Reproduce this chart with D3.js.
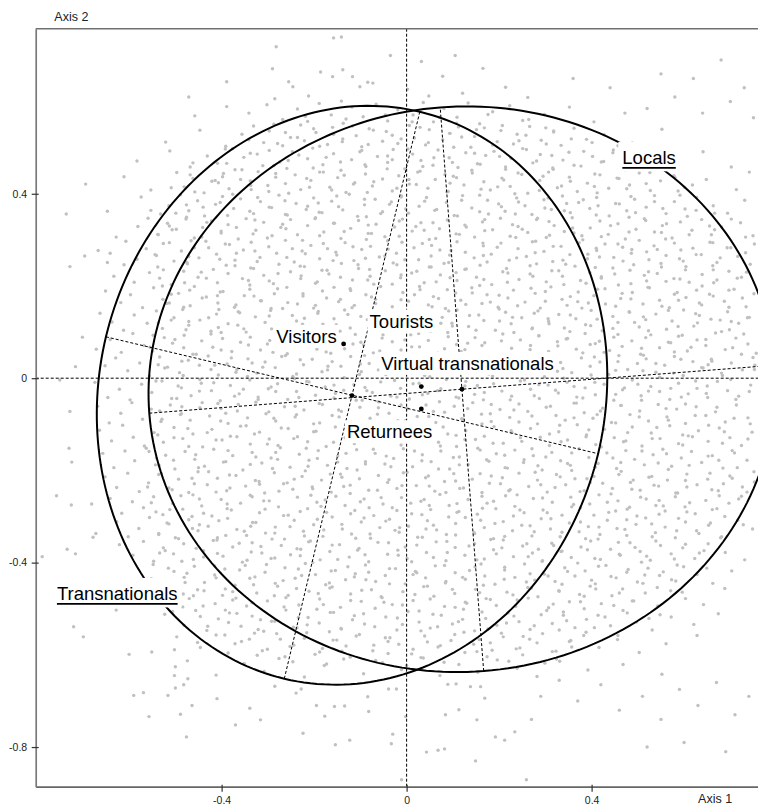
<!DOCTYPE html>
<html><head><meta charset="utf-8">
<script src="https://cdn.jsdelivr.net/npm/d3@7"></script>
<style>body{margin:0;background:#fff}svg{display:block}</style>
</head><body><svg id="chart" width="758" height="805"></svg>
<script>
// ---------- data ----------
const xTicks = [-0.4, 0, 0.4];
const yTicks = [0.4, 0, -0.4, -0.8];
const xDomain = [-0.802, 0.8];
const yDomain = [-0.886, 0.758];
const axisTitles = ["Axis 1", "Axis 2"];

const ellipseNames = ["Transnationals", "Locals"];
const ellipseCX = [-0.118, 0.1196];
const ellipseCY = [-0.037, -0.0239];
const ellipseA = [0.547, 0.678];     // semi-axis 1
const ellipseB = [0.632, 0.613];     // semi-axis 2
const ellipseAngle = [-13.4, 4.4];   // orientation of axis 1, degrees

const meanNames = ["Visitors", "Transnationals", "Virtual transnationals", "Returnees", "Locals"];
const meanX = [-0.1362, -0.1183, 0.0318, 0.0318, 0.1196];
const meanY = [0.0744, -0.0377, -0.0182, -0.0666, -0.0239];

const labelText = ["Visitors", "Tourists", "Virtual transnationals", "Returnees", "Locals", "Transnationals"];
const labelX = [-0.2817, -0.0800, -0.0547, -0.1291, 0.4664, -0.7561];
const labelY = [0.0766, 0.1098, 0.0180, -0.1302, 0.4649, -0.4809];
const labelUnderlined = [false, false, false, false, true, true];

// individuals (part 1): x, y pairs
const cloudXY = [
-.282,.719,-.158,.738,-.141,.740,-.290,.671,-.389,.643,-.471,.610,-.255,.643,-.246,.632,-.186,.664,-.160,.654,-.138,.669,-.117,.654,-.101,.632,-.084,.642,-.073,.640,-.285,.606,-.141,.601,.002,.627,.032,.687,.078,.655,.121,.618,.165,.672,.214,.631,.262,.609,.048,.612,-.212,.612,-.035,.700,.105,.700,
.52,.585,.58,.61,.64,.575,.70,.60,.75,.565,.62,.65,.68,.69,.55,.66,.73,.63,.44,.63,.36,.65,
-.458,.569,-.389,.589,-.341,.575,-.302,.593,-.268,.561,-.236,.584,-.214,.557,-.189,.596,-.163,.571,-.137,.553,-.118,.588,-.094,.567,-.066,.594,-.041,.558,-.019,.582,.014,.571,.036,.598,.058,.556,.081,.585,.109,.566,.133,.597,.158,.552,.186,.578,.223,.591,.251,.559,.298,.572,.352,.588,.405,.556,.472,.575,
-.521,.512,-.447,.538,-.391,.503,-.356,.529,-.331,.547,-.309,.511,-.297,.536,-.268,.504,-.251,.522,-.229,.549,-.221,.515,-.196,.533,-.171,.507,-.160,.544,-.138,.519,-.109,.526,-.097,.502,-.081,.541,-.052,.514,-.044,.535,-.019,.509,.006,.548,.017,.521,.041,.506,.049,.539,.078,.517,.093,.531,.112,.545,.139,.501,.147,.524,.168,.543,.196,.513,.204,.537,.231,.508,.258,.527,.266,.546,.291,.516,.318,.534,.334,.505,.362,.542,.389,.518,.427,.528,.488,.51,.552,.54,
-.583,.471,-.512,.493,-.468,.458,-.431,.482,-.409,.466,-.392,.497,-.371,.452,-.352,.479,-.338,.488,-.311,.461,-.297,.494,-.274,.469,-.259,.455,-.233,.484,-.214,.476,-.203,.499,-.181,.463,-.158,.487,-.142,.451,-.119,.474,-.101,.491,-.088,.459,-.063,.481,-.041,.468,-.029,.496,-.004,.454,.013,.486,.031,.472,.057,.462,.068,.495,.092,.478,.111,.457,.128,.489,.153,.465,.171,.483,.189,.492,.214,.453,.226,.477,.251,.498,.273,.467,.289,.485,.316,.456,.338,.473,.351,.490,.377,.460,.402,.481,.421,.469,.447,.495,.473,.452,.498,.487,.539,.464,.584,.476,.641,.491,.702,.458,
-.694,.421,-.611,.437,-.553,.408,-.497,.446,-.481,.415,-.462,.433,-.438,.402,-.421,.427,-.396,.444,-.384,.411,-.359,.431,-.337,.418,-.321,.448,-.298,.405,-.283,.436,-.262,.422,-.241,.441,-.229,.409,-.207,.429,-.188,.447,-.166,.414,-.149,.435,-.131,.403,-.112,.424,-.089,.443,-.074,.417,-.052,.432,-.031,.406,-.017,.439,.006,.421,.024,.447,.046,.412,.062,.431,.087,.404,.101,.438,.124,.419,.142,.445,.167,.426,.181,.408,.206,.434,.224,.416,.249,.442,.262,.401,.288,.429,.307,.447,.326,.413,.352,.436,.369,.405,.391,.423,.418,.441,.437,.412,.459,.433,.482,.419,.503,.445,.527,.407,.549,.428,.578,.439,.601,.414,.648,.431,.713,.409,.741,.447,
-.647,.362,-.574,.393,-.532,.356,-.514,.374,-.489,.398,-.471,.363,-.452,.385,-.437,.352,-.413,.377,-.398,.394,-.374,.368,-.359,.389,-.331,.357,-.316,.383,-.297,.371,-.276,.397,-.258,.354,-.239,.379,-.217,.366,-.201,.391,-.183,.359,-.162,.384,-.147,.372,-.124,.399,-.106,.351,-.091,.376,-.068,.388,-.052,.361,-.033,.382,-.011,.395,.004,.358,.027,.373,.043,.392,.061,.364,.086,.381,.103,.353,.119,.386,.141,.369,.158,.397,.177,.356,.199,.378,.213,.362,.238,.391,.256,.374,.271,.355,.297,.387,.313,.366,.337,.395,.354,.359,.372,.381,.396,.368,.411,.392,.438,.352,.452,.379,.476,.363,.493,.388,.518,.371,.536,.396,.561,.357,.579,.383,.602,.367,.627,.392,.663,.374,.694,.358,.731,.386,
-.628,.306,-.581,.329,-.559,.347,-.538,.312,-.517,.336,-.498,.323,-.476,.349,-.459,.304,-.441,.327,-.422,.341,-.401,.315,-.386,.333,-.364,.302,-.347,.346,-.326,.321,-.309,.338,-.291,.309,-.272,.327,-.251,.344,-.236,.311,-.214,.331,-.197,.348,-.179,.317,-.158,.336,-.142,.303,-.121,.325,-.104,.342,-.083,.314,-.066,.334,-.047,.307,-.026,.328,-.009,.345,.012,.319,.031,.337,.049,.301,.071,.324,.088,.343,.107,.313,.126,.332,.147,.306,.164,.339,.186,.322,.203,.347,.224,.308,.241,.329,.262,.316,.281,.344,.302,.305,.319,.331,.341,.318,.358,.348,.379,.309,.397,.326,.418,.341,.436,.312,.457,.335,.473,.302,.496,.323,.514,.346,.536,.317,.553,.331,.574,.304,.592,.339,.617,.321,.638,.344,.659,.311,.681,.328,.722,.337,.749,.309,
-.641,.271,-.607,.297,-.583,.258,-.563,.281,-.541,.266,-.526,.292,-.503,.254,-.487,.276,-.466,.298,-.449,.261,-.428,.283,-.411,.269,-.392,.291,-.371,.256,-.353,.278,-.336,.295,-.317,.262,-.298,.285,-.281,.271,-.262,.299,-.243,.252,-.226,.276,-.207,.288,-.188,.259,-.171,.281,-.151,.267,-.133,.294,-.114,.255,-.097,.279,-.078,.286,-.059,.263,-.041,.298,-.022,.271,-.004,.257,.016,.283,.034,.292,.053,.265,.072,.278,.091,.251,.109,.296,.127,.273,.146,.261,.166,.287,.183,.269,.204,.293,.222,.256,.241,.281,.259,.264,.279,.297,.297,.275,.316,.253,.334,.286,.353,.268,.373,.294,.391,.259,.411,.277,.429,.291,.448,.262,.467,.284,.486,.271,.503,.299,.524,.257,.542,.279,.561,.266,.579,.293,.598,.254,.619,.282,.637,.268,.656,.295,.678,.261,.701,.283,.733,.272,.752,.291,
-.633,.221,-.611,.246,-.589,.208,-.556,.229,-.538,.241,-.534,.217,-.509,.203,-.482,.232,-.474,.248,-.451,.219,-.418,.236,-.409,.207,-.386,.227,-.371,.244,-.342,.212,-.337,.239,-.309,.223,-.288,.205,-.276,.247,-.251,.231,-.229,.216,-.221,.242,-.193,.209,-.172,.234,-.168,.226,-.141,.249,-.117,.213,-.104,.238,-.079,.221,-.071,.204,-.046,.233,-.021,.246,-.013,.218,.011,.228,.038,.207,.049,.241,.073,.224,.081,.249,.109,.212,.126,.236,.151,.219,.159,.245,.184,.203,.208,.231,.216,.238,.243,.214,.267,.226,.281,.248,.302,.209,.329,.233,.337,.221,.364,.243,.388,.206,.396,.229,.421,.217,.446,.239,.458,.202,.483,.234,.491,.246,.519,.211,.542,.227,.551,.241,.578,.216,.603,.235,.611,.208,.639,.225,.662,.244,.671,.213,.697,.232,.724,.219,.743,.247,
-.651,.189,-.618,.164,-.597,.181,-.571,.153,-.547,.196,-.527,.171,-.519,.162,-.493,.184,-.468,.157,-.459,.199,-.433,.176,-.408,.163,-.397,.188,-.372,.154,-.351,.179,-.339,.193,-.314,.168,-.293,.151,-.286,.183,-.259,.197,-.236,.161,-.224,.178,-.201,.152,-.182,.189,-.173,.174,-.147,.166,-.122,.194,-.113,.158,-.088,.181,-.067,.171,-.056,.199,-.031,.155,-.008,.186,.004,.167,.029,.192,.047,.159,.058,.177,.084,.151,.106,.185,.117,.169,.141,.196,.163,.162,.174,.181,.198,.154,.219,.174,.231,.191,.256,.165,.278,.184,.289,.152,.312,.198,.336,.171,.347,.158,.371,.187,.393,.163,.405,.179,.429,.194,.452,.156,.463,.173,.488,.186,.511,.161,.522,.197,.547,.169,.568,.153,.579,.182,.604,.175,.627,.191,.638,.159,.663,.178,.687,.167,.708,.193,.734,.155,.751,.183,
-.663,.141,-.637,.122,-.612,.104,-.589,.137,-.561,.119,-.541,.146,-.528,.108,-.503,.131,-.484,.149,-.471,.115,-.447,.126,-.423,.102,-.411,.139,-.386,.118,-.364,.144,-.352,.107,-.327,.133,-.306,.121,-.294,.147,-.268,.111,-.247,.136,-.238,.124,-.211,.103,-.192,.141,-.181,.117,-.157,.129,-.134,.148,-.122,.109,-.099,.134,-.077,.121,-.064,.142,-.039,.106,-.018,.127,-.007,.139,.019,.114,.041,.145,.052,.101,.077,.132,.098,.119,.109,.148,.134,.112,.156,.137,.167,.125,.192,.104,.214,.143,.226,.118,.249,.131,.271,.107,.284,.146,.307,.123,.329,.138,.341,.109,.366,.129,.387,.116,.399,.147,.423,.103,.446,.134,.457,.121,.482,.143,.503,.111,.517,.127,.539,.139,.562,.106,.574,.124,.599,.148,.621,.113,.633,.136,.658,.128,.681,.101,.694,.144,.718,.119,.741,.132,
-.671,.063,-.641,.084,-.617,.056,-.592,.097,-.568,.071,-.549,.059,-.524,.088,-.506,.076,-.481,.093,-.462,.052,-.443,.081,-.419,.067,-.401,.099,-.378,.058,-.359,.078,-.338,.089,-.316,.061,-.301,.074,-.277,.096,-.258,.053,-.239,.083,-.214,.069,-.198,.091,-.174,.057,-.156,.086,-.134,.064,-.111,.095,-.093,.072,-.072,.055,-.053,.087,-.031,.079,-.012,.061,.009,.094,.028,.068,.047,.082,.068,.054,.089,.099,.108,.073,.126,.062,.148,.088,.169,.077,.187,.051,.208,.096,.227,.065,.246,.083,.268,.071,.286,.092,.307,.058,.326,.079,.348,.086,.367,.063,.386,.097,.408,.075,.427,.056,.448,.089,.466,.069,.487,.081,.506,.052,.528,.094,.547,.066,.566,.078,.588,.091,.607,.059,.628,.083,.647,.071,.668,.098,.689,.062,.712,.087,.738,.074,.756,.054,
-.652,.027,-.629,.044,-.603,.016,-.577,.033,-.556,.005,-.534,.046,-.517,.024,-.491,.012,-.472,.039,-.448,.028,-.429,.048,-.407,.007,-.388,.031,-.367,.019,-.343,.042,-.324,.011,-.306,.035,-.284,.023,-.262,.049,-.246,.004,-.223,.029,-.204,.041,-.183,.014,-.161,.036,-.142,.026,-.121,.047,-.102,.008,-.081,.032,-.061,.018,-.043,.043,-.021,.025,-.003,.011,.018,.037,.039,.006,.057,.029,.079,.045,.098,.017,.118,.034,.137,.022,.159,.048,.178,.009,.198,.031,.219,.041,.237,.015,.258,.027,.277,.046,.298,.003,.317,.038,.338,.021,.357,.012,.378,.044,.397,.026,.418,.035,.437,.008,.459,.049,.478,.019,.499,.032,.518,.042,.539,.013,.558,.028,.579,.047,.598,.006,.619,.036,.638,.023,.659,.041,.681,.011,.702,.033,.726,.018,.749,.045,
-.674,-.009,-.646,-.042,-.621,-.024,-.598,-.047,-.573,-.013,-.551,-.031,-.529,-.006,-.508,-.044,-.487,-.021,-.466,-.038,-.444,-.011,-.422,-.027,-.403,-.049,-.381,-.016,-.362,-.034,-.339,-.004,-.321,-.041,-.299,-.023,-.279,-.012,-.257,-.046,-.238,-.029,-.216,-.007,-.197,-.037,-.176,-.019,-.157,-.043,-.136,-.026,-.114,-.014,-.096,-.048,-.074,-.031,-.056,-.008,-.034,-.039,-.013,-.022,.006,-.045,.027,-.011,.046,-.033,.067,-.027,.086,-.003,.107,-.041,.126,-.017,.147,-.035,.166,-.047,.188,-.012,.206,-.028,.227,-.039,.246,-.006,.268,-.024,.287,-.044,.306,-.015,.328,-.032,.347,-.009,.368,-.041,.386,-.021,.408,-.036,.427,-.013,.448,-.048,.467,-.025,.488,-.004,.507,-.038,.528,-.018,.547,-.029,.569,-.046,.588,-.011,.609,-.034,.628,-.022,.651,-.042,.672,-.007,.694,-.027,.718,-.039,.744,-.015,
-.668,-.061,-.643,-.097,-.618,-.076,-.594,-.053,-.571,-.089,-.552,-.067,-.531,-.094,-.511,-.058,-.489,-.079,-.468,-.091,-.447,-.064,-.426,-.082,-.408,-.055,-.386,-.098,-.366,-.071,-.344,-.086,-.326,-.052,-.304,-.077,-.283,-.093,-.264,-.062,-.241,-.084,-.222,-.069,-.201,-.099,-.182,-.057,-.161,-.081,-.141,-.072,-.119,-.095,-.101,-.063,-.079,-.087,-.061,-.051,-.038,-.076,-.019,-.092,.002,-.066,.023,-.083,.042,-.058,.063,-.096,.082,-.074,.103,-.061,.122,-.089,.143,-.053,.162,-.078,.183,-.094,.202,-.068,.223,-.085,.243,-.056,.262,-.072,.283,-.099,.302,-.063,.323,-.081,.343,-.091,.362,-.054,.384,-.075,.403,-.087,.424,-.065,.443,-.096,.464,-.059,.483,-.079,.504,-.071,.523,-.093,.544,-.057,.563,-.084,.584,-.067,.603,-.098,.626,-.062,.647,-.081,.668,-.073,.689,-.095,.713,-.058,.738,-.086,
-.664,-.113,-.638,-.136,-.614,-.102,-.591,-.128,-.567,-.147,-.546,-.118,-.526,-.139,-.503,-.107,-.484,-.131,-.462,-.121,-.441,-.149,-.421,-.111,-.399,-.134,-.381,-.126,-.359,-.104,-.338,-.143,-.318,-.117,-.297,-.132,-.278,-.146,-.256,-.109,-.236,-.127,-.214,-.138,-.196,-.115,-.174,-.148,-.154,-.106,-.133,-.129,-.113,-.142,-.092,-.119,-.073,-.101,-.051,-.136,-.031,-.124,-.012,-.145,.009,-.112,.029,-.131,.048,-.103,.069,-.139,.089,-.121,.108,-.148,.128,-.114,.149,-.133,.168,-.126,.189,-.105,.209,-.141,.228,-.118,.249,-.137,.268,-.109,.289,-.128,.309,-.146,.329,-.116,.348,-.134,.369,-.101,.389,-.123,.409,-.144,.428,-.111,.449,-.129,.469,-.138,.488,-.106,.509,-.147,.529,-.119,.548,-.131,.569,-.103,.588,-.142,.609,-.125,.631,-.114,.652,-.137,.676,-.108,.699,-.129,.724,-.146,.747,-.117,
-.657,-.163,-.633,-.194,-.609,-.158,-.588,-.179,-.563,-.152,-.543,-.188,-.521,-.167,-.501,-.197,-.479,-.159,-.458,-.176,-.437,-.191,-.417,-.154,-.396,-.182,-.376,-.168,-.354,-.199,-.334,-.161,-.313,-.184,-.293,-.173,-.273,-.151,-.252,-.193,-.232,-.165,-.211,-.178,-.191,-.157,-.171,-.189,-.149,-.169,-.129,-.196,-.108,-.155,-.089,-.181,-.068,-.163,-.047,-.186,-.028,-.174,-.007,-.153,.013,-.192,.034,-.166,.053,-.181,.074,-.158,.093,-.197,.114,-.171,.133,-.187,.154,-.152,.173,-.177,.194,-.164,.213,-.194,.234,-.156,.253,-.183,.274,-.168,.293,-.199,.314,-.161,.333,-.179,.354,-.189,.373,-.153,.394,-.172,.414,-.185,.433,-.162,.454,-.196,.474,-.157,.493,-.176,.514,-.188,.533,-.166,.554,-.154,.573,-.191,.594,-.173,.616,-.159,.638,-.183,.661,-.168,.684,-.195,.709,-.162,.736,-.178,
-.652,-.214,-.627,-.237,-.603,-.206,-.578,-.246,-.558,-.227,-.536,-.209,-.514,-.238,-.493,-.219,-.471,-.248,-.451,-.203,-.431,-.231,-.409,-.217,-.389,-.244,-.369,-.211,-.348,-.234,-.327,-.222,-.307,-.249,-.286,-.205,-.266,-.229,-.246,-.241,-.226,-.213,-.204,-.236,-.184,-.221,-.163,-.247,-.143,-.208,-.122,-.232,-.102,-.218,-.082,-.243,-.061,-.211,-.041,-.226,-.021,-.239,.001,-.204,.021,-.233,.041,-.216,.061,-.245,.082,-.224,.102,-.207,.123,-.238,.142,-.219,.163,-.248,.183,-.212,.203,-.229,.224,-.242,.243,-.206,.264,-.235,.283,-.221,.304,-.247,.324,-.209,.344,-.231,.364,-.218,.384,-.244,.405,-.213,.424,-.228,.445,-.239,.464,-.202,.484,-.226,.505,-.243,.524,-.215,.545,-.234,.564,-.221,.586,-.249,.606,-.208,.628,-.231,.651,-.219,.674,-.244,.699,-.212,.726,-.236,.752,-.225,
-.641,-.261,-.616,-.293,-.593,-.268,-.569,-.281,-.547,-.257,-.527,-.296,-.506,-.272,-.484,-.284,-.462,-.253,-.443,-.277,-.421,-.299,-.401,-.263,-.379,-.286,-.359,-.271,-.338,-.254,-.318,-.292,-.297,-.266,-.277,-.279,-.256,-.297,-.236,-.258,-.214,-.283,-.194,-.269,-.173,-.291,-.153,-.256,-.133,-.276,-.112,-.287,-.092,-.262,-.071,-.298,-.051,-.273,-.031,-.281,-.011,-.259,.011,-.294,.031,-.267,.052,-.285,.072,-.252,.092,-.276,.113,-.289,.133,-.263,.153,-.295,.174,-.271,.193,-.283,.214,-.255,.234,-.278,.254,-.292,.274,-.261,.295,-.286,.315,-.269,.336,-.297,.355,-.258,.376,-.281,.396,-.273,.416,-.253,.437,-.291,.457,-.266,.477,-.284,.498,-.299,.518,-.262,.539,-.276,.559,-.288,.581,-.257,.602,-.279,.624,-.294,.647,-.265,.671,-.283,.697,-.271,.724,-.256,
-.672,-.337,-.627,-.311,-.602,-.344,-.579,-.326,-.556,-.302,-.536,-.339,-.514,-.316,-.493,-.348,-.471,-.307,-.451,-.331,-.429,-.321,-.409,-.346,-.387,-.304,-.367,-.328,-.346,-.341,-.326,-.313,-.305,-.336,-.284,-.323,-.264,-.349,-.243,-.308,-.223,-.332,-.201,-.318,-.181,-.343,-.161,-.301,-.139,-.327,-.119,-.338,-.098,-.312,-.078,-.347,-.058,-.324,-.037,-.306,-.016,-.334,.004,-.321,.024,-.345,.045,-.309,.065,-.329,.086,-.339,.106,-.315,.127,-.302,.147,-.337,.168,-.324,.188,-.348,.209,-.311,.229,-.331,.249,-.319,.271,-.342,.291,-.305,.311,-.327,.332,-.344,.352,-.314,.373,-.333,.393,-.322,.414,-.349,.434,-.308,.455,-.326,.476,-.341,.496,-.317,.517,-.303,.538,-.335,.559,-.323,.581,-.346,.603,-.312,.627,-.331,.653,-.319,.681,-.344,.716,-.308,.748,-.327,
-.621,-.361,-.592,-.384,-.569,-.354,-.547,-.397,-.526,-.368,-.504,-.381,-.482,-.359,-.461,-.393,-.439,-.374,-.418,-.352,-.397,-.386,-.376,-.366,-.355,-.399,-.334,-.357,-.313,-.379,-.293,-.391,-.271,-.363,-.251,-.383,-.229,-.371,-.208,-.353,-.187,-.394,-.166,-.376,-.145,-.361,-.124,-.388,-.103,-.369,-.082,-.398,-.062,-.356,-.041,-.382,-.019,-.373,.001,-.391,.022,-.362,.043,-.378,.064,-.355,.085,-.396,.105,-.367,.126,-.384,.147,-.359,.168,-.392,.188,-.372,.209,-.351,.231,-.387,.251,-.364,.272,-.379,.293,-.397,.314,-.358,.336,-.375,.356,-.389,.377,-.366,.398,-.353,.419,-.393,.441,-.371,.462,-.384,.483,-.357,.505,-.376,.527,-.395,.549,-.363,.572,-.381,.597,-.368,.623,-.391,.652,-.359,.689,-.378,.731,-.394,
-.571,-.436,-.548,-.404,-.526,-.447,-.503,-.419,-.481,-.432,-.459,-.408,-.437,-.443,-.415,-.427,-.393,-.414,-.371,-.449,-.349,-.406,-.328,-.431,-.306,-.421,-.284,-.445,-.263,-.411,-.241,-.434,-.219,-.402,-.197,-.426,-.175,-.448,-.154,-.417,-.132,-.437,-.111,-.424,-.089,-.405,-.067,-.441,-.046,-.428,-.024,-.413,-.003,-.446,.019,-.419,.041,-.433,.062,-.407,.084,-.444,.105,-.422,.127,-.436,.148,-.409,.169,-.429,.191,-.447,.212,-.416,.234,-.432,.255,-.403,.277,-.438,.298,-.425,.321,-.441,.342,-.411,.364,-.429,.386,-.418,.408,-.446,.431,-.406,.453,-.433,.476,-.421,.499,-.442,.522,-.412,.547,-.428,.573,-.437,.599,-.409,.628,-.426,.662,-.445,.703,-.418,
-.568,-.459,-.531,-.481,-.508,-.453,-.484,-.496,-.461,-.472,-.438,-.461,-.414,-.489,-.392,-.457,-.369,-.477,-.346,-.494,-.324,-.466,-.301,-.483,-.279,-.451,-.256,-.471,-.233,-.492,-.211,-.462,-.188,-.479,-.166,-.455,-.143,-.497,-.121,-.468,-.098,-.484,-.076,-.459,-.053,-.476,-.031,-.491,-.008,-.463,.014,-.482,.037,-.452,.059,-.473,.082,-.495,.104,-.467,.127,-.486,.149,-.458,.172,-.478,.194,-.493,.217,-.464,.239,-.481,.262,-.454,.284,-.474,.307,-.498,.329,-.461,.352,-.485,.374,-.469,.397,-.451,.421,-.489,.444,-.472,.467,-.457,.491,-.483,.516,-.466,.543,-.494,.571,-.461,.603,-.478,.642,-.491,.688,-.456,
-.523,-.512,-.481,-.536,-.456,-.504,-.432,-.547,-.407,-.522,-.383,-.509,-.358,-.538,-.334,-.516,-.309,-.549,-.285,-.527,-.261,-.503,-.237,-.541,-.213,-.519,-.189,-.531,-.165,-.508,-.141,-.544,-.117,-.524,-.093,-.511,-.069,-.539,-.045,-.518,-.021,-.546,.003,-.506,.027,-.529,.051,-.542,.075,-.514,.099,-.533,.123,-.501,.147,-.548,.171,-.521,.195,-.536,.219,-.509,.243,-.528,.267,-.545,.291,-.513,.315,-.532,.339,-.507,.364,-.541,.389,-.523,.414,-.514,.441,-.537,.468,-.504,.497,-.529,.531,-.546,.572,-.518,.621,-.534,.674,-.511,
-.497,-.561,-.446,-.584,-.412,-.557,-.386,-.596,-.357,-.571,-.329,-.553,-.301,-.588,-.273,-.566,-.244,-.579,-.216,-.552,-.188,-.594,-.159,-.568,-.131,-.581,-.102,-.556,-.073,-.591,-.046,-.563,-.017,-.577,.011,-.598,.039,-.559,.068,-.583,.096,-.569,.124,-.551,.152,-.593,.181,-.574,.209,-.561,.237,-.587,.266,-.566,.294,-.554,.323,-.592,.352,-.571,.383,-.558,.416,-.584,.456,-.567,.503,-.595,.561,-.576,.628,-.558,
-.412,-.644,-.351,-.619,-.308,-.636,-.263,-.604,-.221,-.648,-.178,-.623,-.136,-.609,-.093,-.641,-.052,-.617,-.011,-.632,.031,-.606,.072,-.645,.113,-.621,.154,-.638,.196,-.611,.239,-.629,.282,-.647,.331,-.614,.392,-.633,.468,-.621,.552,-.642,
-.736,.356,-.728,.242,-.696,.265,-.667,.277,-.647,.251,-.701,.089,-.716,.025,-.750,-.004,-.728,-.072,-.730,-.152,-.724,-.182,-.757,-.255,-.725,-.275,-.681,-.273,-.788,-.387,-.734,-.371,-.716,-.381,-.678,-.345,
-.720,-.539,-.699,-.561,-.628,-.503,-.600,-.599,-.551,-.594,-.502,-.589,-.500,-.626,-.502,-.645,-.474,-.613,-.473,-.652,-.482,-.665,-.500,-.672,-.590,-.688,-.569,-.682,-.516,-.688,-.464,-.710,-.557,-.734,-.489,-.729,-.476,-.778,
-.228,-.674,-.239,-.683,-.195,-.710,-.156,-.712,-.134,-.711,-.177,-.733,-.084,-.691,-.082,-.723,-.039,-.674,-.022,-.674,-.316,-.741,-.224,-.770,-.154,-.795,-.123,-.785,-.030,-.772,-.033,-.793,-.002,-.734,-.011,-.871,.043,-.811,.068,-.807,.082,-.804,.084,-.730,.113,-.719,.152,-.741,.169,-.694,.089,-.664,.107,-.663,.138,-.669,.160,-.669,.149,-.830,.192,-.778,.212,-.785,.234,-.767,.259,-.871,-.285,-.668,-.339,-.716,-.41,-.695,-.37,-.752,
.33,-.655,.37,-.70,.42,-.665,.46,-.72,.51,-.69,.55,-.74,.59,-.675,.63,-.71,.67,-.66,.71,-.73,.74,-.69,.60,-.79,.52,-.80,.69,-.81,.29,-.69,.27,-.74
];

// individuals (part 2): x, y pairs
const cloudXY2 = [
-.287,.551,-.262,.533,-.219,.568,-.201,.541,-.158,.529,-.131,.562,-.117,.547,-.072,.538,-.046,.571,-.031,.527,.012,.556,.029,.544,.071,.566,.094,.531,.108,.553,.151,.539,.176,.572,.207,.548,.239,.529,.264,.561,.301,.543,.318,.536,
-.376,.498,-.341,.517,-.323,.486,-.279,.509,-.247,.491,-.236,.522,-.188,.503,-.174,.479,-.139,.513,-.097,.494,-.083,.507,-.041,.482,-.012,.519,.003,.497,.047,.511,.059,.478,.102,.501,.119,.523,.147,.488,.186,.506,.201,.481,.243,.515,.259,.496,.302,.508,.314,.483,.356,.519,.383,.492,.401,.511,.446,.489,.457,.504,
-.468,.441,-.462,.467,-.414,.429,-.398,.437,-.389,.466,-.356,.452,-.338,.428,-.287,.461,-.283,.444,-.256,.472,-.216,.433,-.202,.456,-.180,.447,-.143,.469,-.135,.440,-.090,.463,-.071,.426,-.042,.454,-.031,.474,.005,.431,.029,.449,.035,.459,.083,.442,.099,.468,.108,.435,.141,.451,.159,.464,.210,.430,.214,.458,.241,.445,.281,.471,.295,.438,.317,.453,.354,.427,.362,.462,.407,.443,.426,.470,.455,.434,.466,.455,.502,.473,.526,.446,.532,.460,.580,.436,
-.509,.413,-.476,.376,-.458,.404,-.407,.424,-.403,.381,-.376,.399,-.336,.409,-.322,.392,-.300,.418,-.263,.385,-.255,.401,-.210,.414,-.191,.380,-.162,.408,-.151,.395,-.115,.421,-.091,.388,-.085,.403,-.037,.377,-.021,.412,-.012,.393,.021,.420,.039,.384,.090,.405,.094,.423,.121,.396,.161,.410,.175,.386,.197,.415,.234,.400,.242,.382,.287,.407,.306,.391,.335,.417,.346,.379,.382,.387,.406,.416,.412,.402,.460,.378,.476,.411,.485,.394,.518,.422,.536,.383,.587,.406,.591,.397,.618,.419,
-.553,.364,-.513,.330,-.499,.358,-.477,.345,-.440,.371,-.432,.338,-.387,.353,-.368,.327,-.339,.362,-.328,.343,-.292,.370,-.268,.334,-.262,.355,-.214,.373,-.198,.346,-.189,.360,-.156,.336,-.138,.365,-.087,.350,-.083,.332,-.056,.357,-.016,.341,-.002,.367,.020,.329,.057,.337,.065,.366,.110,.352,.129,.328,.158,.361,.169,.344,.205,.372,.229,.333,.235,.356,.283,.347,.299,.369,.308,.340,.341,.363,.359,.326,.410,.354,.414,.374,.441,.331,.481,.349,.495,.359,.517,.342,.554,.368,.562,.335,.607,.351,.626,.364,.655,.330,.666,.358,.702,.345,
-.537,.311,-.513,.294,-.507,.322,-.459,.283,-.443,.306,-.434,.297,-.401,.319,-.383,.290,-.332,.313,-.328,.276,-.301,.304,-.261,.324,-.247,.281,-.225,.299,-.188,.309,-.180,.292,-.135,.318,-.116,.285,-.087,.301,-.076,.314,-.040,.280,-.016,.308,-.010,.295,.038,.321,.054,.288,.063,.303,.096,.277,.114,.312,.165,.293,.169,.320,.196,.284,.236,.305,.250,.323,.272,.296,.309,.310,.317,.286,.362,.315,.381,.300,.410,.282,.421,.307,.457,.291,.481,.317,.487,.279,.535,.287,.551,.316,.560,.302,.593,.278,.611,.311,.662,.294,.666,.322,.693,.283,.733,.306,
-.544,.268,-.526,.235,-.475,.251,-.471,.264,-.444,.230,-.404,.258,-.390,.245,-.368,.271,-.331,.238,-.323,.253,-.278,.227,-.259,.262,-.230,.243,-.219,.270,-.183,.234,-.159,.255,-.153,.273,-.105,.246,-.089,.260,-.080,.236,-.047,.265,-.029,.250,.022,.232,.026,.257,.053,.241,.093,.267,.107,.229,.129,.237,.166,.266,.174,.252,.219,.228,.238,.261,.267,.244,.278,.272,.314,.233,.338,.256,.344,.247,.392,.269,.408,.240,.417,.263,.450,.226,.468,.254,.519,.274,.523,.231,.550,.249,.590,.259,.604,.242,.626,.268,.663,.235,.671,.251,.716,.264,.735,.230,
-.528,.200,-.509,.182,-.480,.207,-.469,.191,-.433,.217,-.409,.179,-.403,.187,-.355,.216,-.339,.202,-.330,.178,-.297,.211,-.279,.194,-.228,.222,-.224,.183,-.197,.206,-.157,.197,-.143,.219,-.121,.190,-.084,.213,-.076,.176,-.031,.204,-.012,.224,.017,.181,.028,.199,.064,.209,.088,.192,.094,.218,.142,.185,.158,.201,.167,.214,.200,.180,.218,.208,.269,.195,.273,.221,.300,.188,.340,.203,.354,.177,.376,.212,.413,.193,.421,.220,.466,.184,.485,.205,.514,.223,.525,.196,.561,.210,.585,.186,.591,.215,.639,.200,.655,.182,.664,.207,.697,.191,.715,.217,
-.513,.163,-.509,.126,-.482,.154,-.442,.174,-.428,.131,-.406,.149,-.369,.159,-.361,.142,-.316,.168,-.297,.135,-.268,.151,-.257,.164,-.221,.130,-.197,.158,-.191,.145,-.143,.171,-.127,.138,-.118,.153,-.085,.127,-.067,.162,-.016,.143,-.012,.170,.015,.134,.055,.155,.069,.173,.091,.146,.128,.160,.136,.136,.181,.165,.200,.150,.229,.132,.240,.157,.276,.141,.300,.167,.306,.129,.354,.137,.370,.166,.379,.152,.412,.128,.430,.161,.481,.144,.485,.172,.512,.133,.552,.156,.566,.147,.588,.169,.625,.140,.633,.163,.678,.126,.697,.154,.726,.174,.737,.131,
-.548,.093,-.537,.120,-.501,.084,-.477,.105,-.471,.123,-.423,.096,-.407,.110,-.398,.086,-.365,.115,-.347,.100,-.296,.082,-.292,.107,-.265,.091,-.225,.117,-.211,.079,-.189,.087,-.152,.116,-.144,.102,-.099,.078,-.080,.111,-.051,.094,-.040,.122,-.004,.083,.020,.106,.026,.097,.074,.119,.090,.090,.099,.113,.132,.076,.150,.104,.201,.124,.205,.081,.232,.099,.272,.109,.286,.092,.308,.118,.345,.085,.353,.101,.398,.114,.417,.080,.446,.108,.457,.095,.493,.121,.517,.088,.523,.103,.571,.077,.587,.112,.596,.093,.629,.120,.647,.084,.698,.105,.702,.123,.729,.096,
-.555,.067,-.537,.029,-.486,.037,-.482,.066,-.455,.052,-.415,.028,-.401,.061,-.379,.044,-.342,.072,-.334,.033,-.289,.056,-.270,.047,-.241,.069,-.230,.040,-.194,.063,-.170,.026,-.164,.054,-.116,.074,-.100,.031,-.091,.049,-.058,.059,-.040,.042,.011,.068,.015,.035,.042,.051,.082,.064,.096,.030,.118,.058,.155,.045,.163,.071,.208,.038,.227,.053,.256,.027,.267,.062,.303,.043,.327,.070,.333,.034,.381,.055,.397,.073,.406,.046,.439,.060,.457,.036,.508,.065,.512,.050,.539,.032,.579,.057,.593,.041,.615,.067,.652,.029,.660,.037,.705,.066,.724,.052,.753,.028,
-.542,-.006,-.523,.022,-.494,-.017,-.483,.006,-.447,-.003,-.423,.019,-.417,-.010,-.369,.013,-.353,-.024,-.344,.004,-.311,.024,-.293,-.019,-.242,-.001,-.238,.009,-.211,-.008,-.171,.018,-.157,-.015,-.135,.001,-.098,.014,-.090,-.020,-.045,.008,-.026,-.005,.003,.021,.014,-.012,.050,.003,.074,-.023,.080,.012,.128,-.007,.144,.020,.153,-.016,.186,.005,.204,.023,.255,-.004,.259,.010,.286,-.014,.326,.015,.340,.000,.362,-.018,.399,.007,.407,-.009,.452,.017,.471,-.021,.500,-.013,.511,.016,.547,.002,.571,-.022,.577,.011,.625,-.006,.641,.022,.650,-.017,.683,.006,.701,-.003,.752,.019,
-.534,-.071,-.497,-.044,-.486,-.062,-.448,-.028,-.442,-.053,-.401,-.066,-.372,-.039,-.364,-.057,-.321,-.046,-.298,-.073,-.283,-.029,-.241,-.061,-.233,-.042,-.189,-.055,-.154,-.033,-.147,-.069,-.109,-.048,-.086,-.027,-.061,-.064,-.021,-.041,-.012,-.058,.034,-.036,.058,-.072,.071,-.051,.113,-.043,.132,-.066,.168,-.031,.183,-.057,.224,-.047,.232,-.069,.276,-.038,.311,-.061,.322,-.026,.367,-.054,.381,-.043,.419,-.071,.452,-.035,.463,-.059,.508,-.048,.523,-.028,.561,-.066,.594,-.041,.603,-.056,.648,-.033,.671,-.063,.712,-.046,.741,-.029,
-.538,-.123,-.529,-.089,-.487,-.077,-.473,-.109,-.431,-.118,-.402,-.093,-.391,-.076,-.347,-.103,-.329,-.121,-.287,-.087,-.271,-.108,-.238,-.079,-.201,-.116,-.188,-.097,-.146,-.084,-.118,-.122,-.104,-.101,-.063,-.078,-.047,-.111,-.003,-.092,.021,-.119,.048,-.083,.079,-.106,.107,-.124,.119,-.088,.163,-.099,.181,-.077,.226,-.114,.243,-.095,.271,-.082,.309,-.121,.331,-.102,.362,-.086,.394,-.112,.412,-.079,.452,-.097,.478,-.118,.503,-.084,.541,-.107,.566,-.091,.597,-.123,.624,-.081,.653,-.102,.687,-.116,.708,-.087,.743,-.099,
-.557,-.159,-.541,-.173,-.503,-.129,-.471,-.148,-.456,-.166,-.412,-.134,-.386,-.157,-.367,-.127,-.326,-.171,-.301,-.143,-.283,-.161,-.244,-.131,-.217,-.152,-.193,-.174,-.158,-.139,-.131,-.163,-.109,-.128,-.072,-.154,-.044,-.169,-.018,-.136,.017,-.158,.042,-.126,.073,-.147,.101,-.172,.126,-.133,.159,-.156,.187,-.141,.212,-.167,.246,-.129,.271,-.153,.301,-.171,.334,-.138,.357,-.162,.388,-.127,.421,-.149,.446,-.173,.474,-.136,.509,-.158,.531,-.131,.562,-.164,.597,-.145,.618,-.127,.652,-.169,.683,-.141,.704,-.157,.738,-.132,
-.535,-.189,-.531,-.206,-.504,-.178,-.464,-.217,-.450,-.194,-.428,-.203,-.391,-.181,-.383,-.210,-.338,-.187,-.319,-.224,-.290,-.196,-.279,-.176,-.243,-.219,-.219,-.201,-.213,-.191,-.165,-.208,-.149,-.182,-.140,-.215,-.107,-.199,-.089,-.186,-.038,-.220,-.034,-.192,-.007,-.205,.033,-.179,.047,-.212,.069,-.197,.106,-.223,.114,-.188,.159,-.207,.178,-.180,.207,-.216,.218,-.195,.254,-.177,.278,-.204,.284,-.190,.332,-.214,.348,-.185,.357,-.200,.390,-.218,.408,-.193,.459,-.209,.463,-.183,.490,-.221,.530,-.213,.544,-.184,.566,-.198,.603,-.222,.611,-.189,.656,-.206,.675,-.178,.704,-.217,.715,-.194,.751,-.203,
-.560,-.236,-.552,-.270,-.507,-.242,-.488,-.255,-.459,-.229,-.448,-.262,-.412,-.247,-.388,-.273,-.382,-.238,-.334,-.257,-.318,-.230,-.309,-.266,-.276,-.245,-.258,-.227,-.207,-.254,-.203,-.240,-.176,-.264,-.136,-.235,-.122,-.250,-.100,-.268,-.063,-.243,-.055,-.259,-.010,-.233,.009,-.271,.038,-.263,.049,-.234,.085,-.248,.109,-.272,.115,-.239,.163,-.256,.179,-.228,.188,-.267,.221,-.244,.239,-.253,.290,-.231,.294,-.260,.321,-.237,.361,-.274,.375,-.246,.397,-.226,.434,-.269,.442,-.251,.487,-.241,.506,-.258,.535,-.232,.546,-.265,.582,-.249,.606,-.236,.612,-.270,.660,-.242,.676,-.255,.685,-.229,.718,-.262,.736,-.247,
-.542,-.290,-.518,-.314,-.512,-.285,-.464,-.300,-.448,-.318,-.439,-.293,-.406,-.309,-.388,-.283,-.337,-.321,-.333,-.313,-.306,-.284,-.266,-.298,-.252,-.322,-.230,-.289,-.193,-.306,-.185,-.278,-.140,-.317,-.121,-.294,-.092,-.303,-.081,-.281,-.045,-.310,-.021,-.287,-.015,-.324,.033,-.296,.049,-.276,.058,-.319,.091,-.301,.109,-.291,.160,-.308,.164,-.282,.191,-.315,.231,-.299,.245,-.286,.267,-.320,.304,-.292,.312,-.305,.357,-.279,.376,-.312,.405,-.297,.416,-.323,.452,-.288,.476,-.307,.482,-.280,.530,-.316,.546,-.295,.555,-.277,.588,-.304,.606,-.290,.657,-.314,.661,-.285,.688,-.300,.728,-.318,
-.536,-.337,-.522,-.374,-.500,-.346,-.463,-.326,-.455,-.369,-.410,-.351,-.391,-.341,-.362,-.358,-.351,-.332,-.315,-.365,-.291,-.349,-.285,-.336,-.237,-.370,-.221,-.342,-.212,-.355,-.179,-.329,-.161,-.362,-.110,-.347,-.106,-.373,-.079,-.338,-.039,-.357,-.025,-.330,-.003,-.366,.034,-.345,.042,-.327,.087,-.354,.106,-.340,.135,-.364,.146,-.335,.182,-.350,.206,-.368,.212,-.343,.260,-.359,.276,-.333,.285,-.371,.318,-.363,.336,-.334,.387,-.348,.391,-.372,.418,-.339,.458,-.356,.472,-.328,.494,-.367,.531,-.344,.539,-.353,.584,-.331,.603,-.360,.632,-.337,.643,-.374,.679,-.346,
-.534,-.379,-.515,-.412,-.486,-.397,-.475,-.423,-.439,-.388,-.415,-.407,-.409,-.380,-.361,-.416,-.345,-.395,-.336,-.377,-.303,-.404,-.285,-.390,-.234,-.414,-.230,-.385,-.203,-.400,-.163,-.418,-.149,-.393,-.127,-.409,-.090,-.383,-.082,-.421,-.037,-.413,-.018,-.384,.011,-.398,.022,-.422,.058,-.389,.082,-.406,.088,-.378,.136,-.417,.152,-.394,.161,-.403,.194,-.381,.212,-.410,.263,-.387,.267,-.424,.294,-.396,.334,-.376,.348,-.419,.370,-.401,.407,-.391,.415,-.408,.460,-.382,.479,-.415,.508,-.399,.519,-.386,.555,-.420,.579,-.392,.585,-.405,.633,-.379,.649,-.412,
-.552,-.435,-.534,-.450,-.483,-.468,-.479,-.443,-.452,-.459,-.412,-.433,-.398,-.471,-.376,-.463,-.339,-.434,-.331,-.448,-.286,-.472,-.267,-.439,-.238,-.456,-.227,-.428,-.191,-.467,-.167,-.444,-.161,-.453,-.113,-.431,-.097,-.460,-.088,-.437,-.055,-.474,-.037,-.446,.014,-.426,.018,-.469,.045,-.451,.085,-.441,.099,-.458,.121,-.432,.158,-.465,.166,-.449,.211,-.436,.230,-.470,.259,-.442,.270,-.455,.306,-.429,.330,-.462,.336,-.447,.384,-.473,.400,-.438,.409,-.457,.442,-.430,.460,-.466,.511,-.445,.515,-.427,.542,-.454,.582,-.440,.596,-.464,
-.506,-.506,-.470,-.478,-.446,-.517,-.440,-.494,-.392,-.503,-.376,-.481,-.367,-.510,-.334,-.487,-.316,-.524,-.265,-.496,-.261,-.476,-.234,-.519,-.194,-.501,-.180,-.491,-.158,-.508,-.121,-.482,-.113,-.515,-.068,-.499,-.049,-.486,-.020,-.520,-.009,-.492,.027,-.505,.051,-.479,.057,-.512,.105,-.497,.121,-.523,.130,-.488,.163,-.507,.181,-.480,.232,-.516,.236,-.495,.263,-.477,.303,-.504,.317,-.490,.339,-.514,.376,-.485,.384,-.500,.429,-.518,.448,-.493,.477,-.509,.488,-.483,.524,-.521,.548,-.513,
-.452,-.573,-.430,-.538,-.393,-.557,-.385,-.530,-.340,-.566,-.321,-.545,-.292,-.527,-.281,-.554,-.245,-.540,-.221,-.564,-.215,-.535,-.167,-.550,-.151,-.568,-.142,-.543,-.109,-.559,-.091,-.533,-.040,-.571,-.036,-.563,-.009,-.534,.031,-.548,.045,-.572,.067,-.539,.104,-.556,.112,-.528,.157,-.567,.176,-.544,.205,-.553,.216,-.531,.252,-.560,.276,-.537,.282,-.574,.330,-.546,.346,-.526,.355,-.569,.388,-.551,.406,-.541,.457,-.558,
-.371,-.576,-.352,-.619,-.323,-.601,-.312,-.591,-.276,-.608,-.252,-.582,-.246,-.615,-.198,-.599,-.182,-.586,-.173,-.620,-.140,-.592,-.122,-.605,-.071,-.579,-.067,-.612,-.040,-.597,.000,-.623,.014,-.588,.036,-.607,.073,-.580,.081,-.616,.126,-.595,.145,-.577,.174,-.604,.185,-.590,.221,-.614,.245,-.585,.251,-.600,.299,-.618,.315,-.593,.324,-.609,.357,-.583
];

// ---------- drawing ----------
const svg = d3.select("#chart");
const font = "'Liberation Sans', Arial, sans-serif";
const x = d3.scaleLinear().domain(xDomain).range([35.7, 776.6]);
const y = d3.scaleLinear().domain(yDomain).range([786.7, 28.7]);
const [x0, x1] = x.range(), [yb, yt] = y.range();

svg.append("defs").append("clipPath").attr("id", "plot")
  .append("rect").attr("x", x0).attr("y", yt).attr("width", x1 - x0).attr("height", yb - yt);
const plot = svg.append("g").attr("clip-path", "url(#plot)");

// individuals
const toPairs = arr => d3.range(0, arr.length - 1, 2).map(i => [arr[i], arr[i + 1]]);
const pts = toPairs(cloudXY).concat(toPairs(cloudXY2));
plot.append("g").selectAll("circle").data(pts).join("circle")
  .attr("cx", d => x(d[0])).attr("cy", d => y(d[1])).attr("r", 1.7).attr("fill", "#c0c0c0");

// zero lines
const dash = "3,2";
plot.append("line").attr("x1", x0).attr("x2", x1).attr("y1", y(0)).attr("y2", y(0))
  .attr("stroke", "#000").attr("stroke-width", 1).attr("stroke-dasharray", dash);
plot.append("line").attr("x1", x(0)).attr("x2", x(0)).attr("y1", yt).attr("y2", yb)
  .attr("stroke", "#000").attr("stroke-width", 1).attr("stroke-dasharray", dash);

// concentration ellipses and their principal axes
const line = d3.line().x(d => x(d[0])).y(d => y(d[1]));
ellipseNames.forEach((name, i) => {
  const th = ellipseAngle[i] * Math.PI / 180, c = Math.cos(th), s = Math.sin(th);
  const cx = ellipseCX[i], cy = ellipseCY[i], a = ellipseA[i], b = ellipseB[i];
  const ring = d3.range(0, 360, 1.5).map(t => {
    const r = t * Math.PI / 180, u = a * Math.cos(r), v = b * Math.sin(r);
    return [cx + u * c - v * s, cy + u * s + v * c];
  });
  plot.append("path").attr("d", d3.line().x(d => x(d[0])).y(d => y(d[1])).curve(d3.curveLinearClosed)(ring))
    .attr("fill", "none").attr("stroke", "#000").attr("stroke-width", 2);
  const segs = [
    [[cx - a * c, cy - a * s], [cx + a * c, cy + a * s]],
    [[cx + b * s, cy - b * c], [cx - b * s, cy + b * c]]
  ];
  segs.forEach(sg => plot.append("path").attr("d", line(sg))
    .attr("fill", "none").attr("stroke", "#000").attr("stroke-width", 1).attr("stroke-dasharray", dash));
});

// labels with white boxes
labelText.forEach((t, i) => {
  const g = svg.append("g");
  const rect = g.append("rect").attr("fill", "#fff");
  const tx = x(labelX[i]), ty = y(labelY[i]);
  const txt = g.append("text").attr("x", tx).attr("y", ty).text(t)
    .style("font-family", font).style("font-size", "18.5px").attr("fill", "#000");
  const bb = txt.node().getBBox();
  if (labelUnderlined[i]) {
    g.append("line").attr("x1", bb.x).attr("x2", bb.x + bb.width).attr("y1", ty + 4).attr("y2", ty + 4)
      .attr("stroke", "#000").attr("stroke-width", 1.7);
    rect.attr("x", bb.x - 4).attr("y", bb.y - 5).attr("width", bb.width + 8).attr("height", (ty + 7.5) - (bb.y - 5));
  } else {
    rect.attr("x", bb.x - 2).attr("y", bb.y - 1).attr("width", bb.width + 4).attr("height", bb.height + 2);
  }
});

// category means
svg.append("g").selectAll("circle").data(meanNames).join("circle")
  .attr("cx", (d, i) => x(meanX[i])).attr("cy", (d, i) => y(meanY[i])).attr("r", 2.4).attr("fill", "#000");

// frame: top line
svg.append("line").attr("x1", x0).attr("x2", x1).attr("y1", yt).attr("y2", yt)
  .attr("stroke", "#707070").attr("stroke-width", 1.6);

// axes
const fmt = d => String(d);
const gx = svg.append("g").attr("transform", `translate(0,${yb})`)
  .call(d3.axisBottom(x).tickValues(xTicks).tickFormat(fmt).tickSizeInner(5).tickSizeOuter(0).tickPadding(5));
gx.select(".domain").attr("stroke", "#666").attr("stroke-width", 1.7);
gx.selectAll(".tick line").attr("y1", -2).attr("stroke", "#333").attr("stroke-width", 1.2);
gx.selectAll(".tick text").style("font-family", font).style("font-size", "10.5px").attr("fill", "#222");

const gy = svg.append("g").attr("transform", `translate(${x0},0)`)
  .call(d3.axisLeft(y).tickValues(yTicks).tickFormat(fmt).tickSizeInner(4).tickSizeOuter(0).tickPadding(4.5));
gy.select(".domain").attr("stroke", "#7a7a7a").attr("stroke-width", 1.7);
gy.selectAll(".tick line").attr("x1", 3).attr("stroke", "#333").attr("stroke-width", 1.2);
gy.selectAll(".tick text").style("font-family", font).style("font-size", "10.5px").attr("fill", "#222");

// axis titles
svg.append("text").attr("x", x1 - 78.5).attr("y", yb + 16.5).text(axisTitles[0])
  .style("font-family", font).style("font-size", "12.5px").attr("fill", "#222");
svg.append("text").attr("x", x0 + 18.6).attr("y", yt - 8).text(axisTitles[1])
  .style("font-family", font).style("font-size", "12.5px").attr("fill", "#222");
</script>
</body></html>
